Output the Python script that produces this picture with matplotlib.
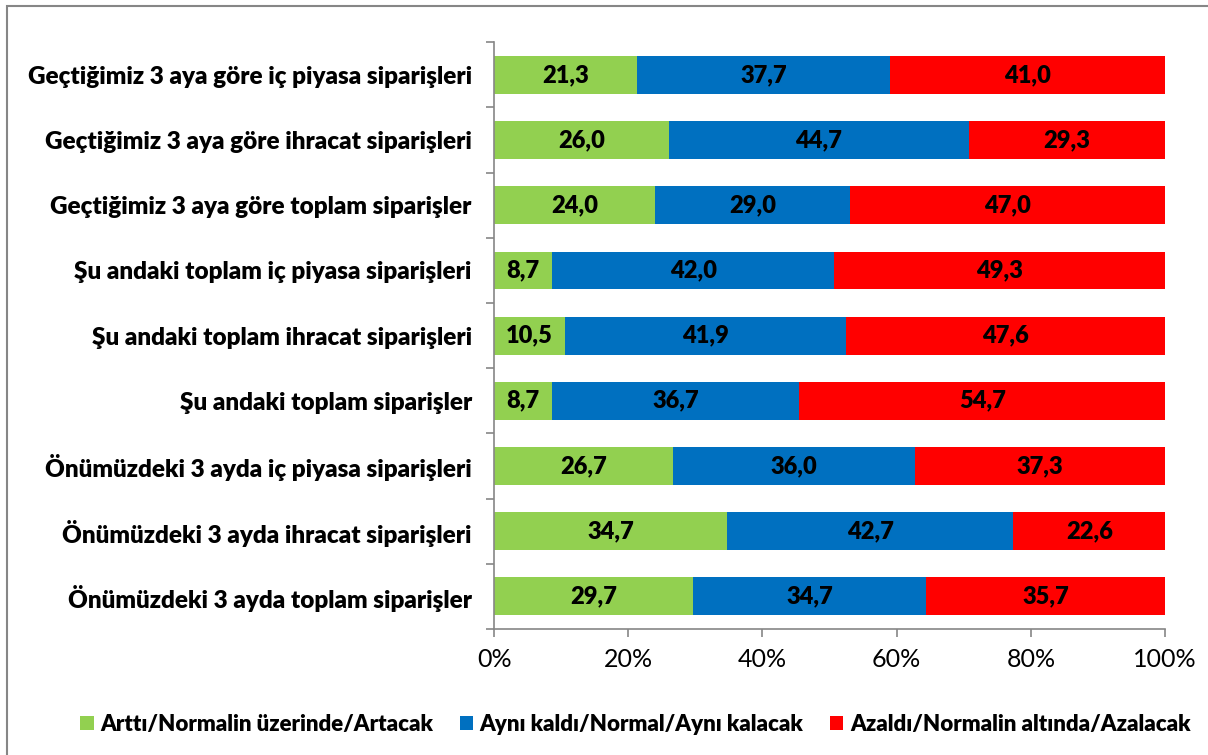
import numpy as np
import matplotlib.pyplot as plt
import matplotlib.patches as patches
from matplotlib.ticker import FixedLocator

categories = ["Geçtiğimiz 3 aya göre iç piyasa siparişleri",
              "Geçtiğimiz 3 aya göre ihracat siparişleri",
              "Geçtiğimiz 3 aya göre toplam siparişler",
              "Şu andaki toplam iç piyasa siparişleri",
              "Şu andaki toplam ihracat siparişleri",
              "Şu andaki toplam siparişler",
              "Önümüzdeki 3 ayda iç piyasa siparişleri",
              "Önümüzdeki 3 ayda ihracat siparişleri",
              "Önümüzdeki 3 ayda toplam siparişler"]
arttı = [21.3, 26.0, 24.0, 8.7, 10.5, 8.7, 26.7, 34.7, 29.7]
ayni = [37.7, 44.7, 29.0, 42.0, 41.9, 36.7, 36.0, 42.7, 34.7]
azaldi = [41.0, 29.3, 47.0, 49.3, 47.6, 54.7, 37.3, 22.6, 35.7]
series_names = ["Arttı/Normalin üzerinde/Artacak",
                "Aynı kaldı/Normal/Aynı kalacak",
                "Azaldı/Normalin altında/Azalacak"]
colors = ["#92D050", "#0070C0", "#FF0000"]

plt.rcParams['font.family'] = ['Lato', 'DejaVu Sans']

fig = plt.figure(figsize=(12.08, 7.55), dpi=100)
ax = fig.add_axes([0.409, 0.167, 0.5555, 0.777])

y = np.arange(len(categories))
left = np.zeros(len(categories))
for vals, name, col in zip([arttı, ayni, azaldi], series_names, colors):
    vals = np.array(vals)
    ax.barh(y, vals, left=left, height=0.58, color=col, label=name)
    for yi, l, v in zip(y, left, vals):
        ax.text(l + v / 2, yi, f"{v:.1f}".replace(".", ","), ha='center', va='center',
                fontsize=17, fontweight='heavy', color='black')
    left = left + vals

ax.set_xlim(0, 100)
ax.set_ylim(len(categories) - 0.5, -0.5)
ax.set_xticks(np.arange(0, 101, 20))
ax.set_xticklabels([f"{v}%" for v in range(0, 101, 20)], fontsize=18)
ax.set_yticks(y)
ax.set_yticklabels(categories, fontsize=17.5, fontweight='heavy')
ax.yaxis.set_minor_locator(FixedLocator(np.arange(-0.5, len(categories), 1.0)))
ax.tick_params(axis='y', which='major', length=0, pad=16)
ax.tick_params(axis='y', which='minor', length=6, color='#868686', width=1.2)
ax.tick_params(axis='x', length=6, color='#868686', width=1.2, pad=8)
for s in ['top', 'right']:
    ax.spines[s].set_visible(False)
for s in ['left', 'bottom']:
    ax.spines[s].set_color('#868686')
    ax.spines[s].set_linewidth(1.2)

fig.legend(loc='center', bbox_to_anchor=(0.526, 0.041), ncol=3, frameon=False,
           prop={'size': 16, 'weight': 'heavy'}, handlelength=0.6, handleheight=0.6,
           handletextpad=0.3, columnspacing=1.2)

fig.patches.append(patches.Rectangle((0.006, -0.1), 1.1, 1.092, transform=fig.transFigure,
                                     fill=False, edgecolor='#868686', linewidth=1.5))

fig.savefig("out.png", dpi=100)
